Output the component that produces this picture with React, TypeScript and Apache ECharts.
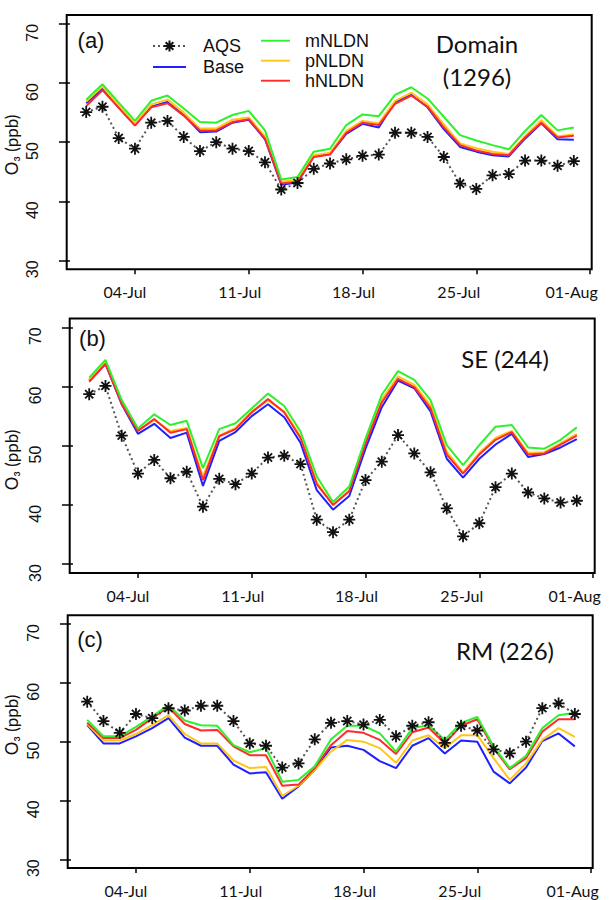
import React, { useEffect, useRef } from "react";
import * as echarts from "echarts";

// Days of July (1..31)
const DAYS = [1, 2, 3, 4, 5, 6, 7, 8, 9, 10, 11, 12, 13, 14, 15, 16, 17, 18, 19, 20, 21, 22, 23, 24, 25, 26, 27, 28, 29, 30, 31];
const TICK_DAYS = [4, 11, 18, 25, 32];
const TICK_LABELS = ["04-Jul", "11-Jul", "18-Jul", "25-Jul", "01-Aug"];
const Y_TICKS = [30, 40, 50, 60, 70];

// (a) Domain (1296)
const A_AQS = [55.1, 56.0, 50.7, 48.9, 53.3, 53.6, 50.9, 48.5, 50.0, 48.9, 48.5, 46.6, 42.0, 43.1, 45.5, 46.4, 47.1, 47.7, 47.9, 51.6, 51.6, 50.9, 47.5, 43.0, 42.1, 44.4, 44.6, 46.9, 46.9, 46.0, 46.8];
const A_BASE = [56.6, 59.1, 55.9, 52.9, 56.0, 56.8, 54.6, 51.7, 51.8, 53.3, 53.8, 50.5, 42.8, 43.2, 47.6, 48.0, 51.4, 53.1, 52.5, 56.8, 58.0, 55.9, 52.2, 49.2, 48.4, 47.8, 47.6, 50.6, 53.2, 50.5, 50.4];
const A_M = [57.2, 59.8, 56.7, 53.6, 57.0, 57.9, 55.7, 53.4, 53.3, 54.6, 55.3, 52.0, 43.7, 44.1, 48.4, 48.9, 52.9, 54.7, 54.4, 58.0, 59.3, 57.4, 54.3, 51.2, 50.3, 49.5, 48.8, 51.9, 54.6, 52.0, 52.5];
const A_P = [56.9, 59.4, 56.2, 53.1, 56.4, 57.2, 55.0, 52.3, 52.3, 53.8, 54.2, 51.0, 43.3, 43.6, 47.8, 48.2, 51.9, 53.6, 53.2, 57.0, 58.4, 56.4, 53.0, 49.8, 49.0, 48.4, 48.0, 51.0, 53.7, 51.0, 51.3];
const A_H = [56.1, 58.8, 55.8, 52.8, 55.9, 56.6, 54.5, 52.0, 52.0, 53.4, 53.9, 50.6, 43.0, 43.3, 47.5, 47.9, 51.6, 53.3, 52.9, 56.5, 57.9, 56.0, 52.5, 49.5, 48.6, 48.0, 47.8, 50.8, 53.3, 50.8, 51.1];

// (b) SE (244)
const B_AQS = [58.7, 60.1, 51.7, 45.3, 47.6, 44.5, 45.6, 39.7, 44.4, 43.5, 45.3, 48.0, 48.3, 46.9, 37.5, 35.4, 37.5, 44.2, 47.3, 51.8, 48.7, 45.5, 39.4, 34.7, 36.9, 43.0, 45.3, 42.1, 41.1, 40.4, 40.7];
const B_BASE = [61.0, 63.8, 57.0, 52.0, 53.7, 51.3, 52.2, 43.2, 50.8, 52.3, 55.0, 57.0, 54.8, 50.5, 42.5, 39.2, 41.5, 49.5, 56.5, 61.0, 59.7, 55.8, 47.8, 44.6, 47.8, 50.2, 52.0, 48.1, 48.6, 49.7, 51.1];
const B_M = [61.5, 64.5, 57.7, 52.9, 55.3, 53.5, 54.2, 46.2, 52.8, 53.8, 56.3, 58.8, 56.7, 52.4, 44.8, 40.5, 43.1, 51.2, 58.6, 62.6, 61.1, 57.7, 50.1, 46.7, 50.1, 53.2, 53.5, 49.7, 49.5, 51.0, 53.1];
const B_P = [61.2, 64.2, 57.3, 52.6, 54.3, 52.5, 53.0, 44.8, 51.7, 53.0, 55.8, 57.6, 55.8, 51.6, 43.8, 40.0, 42.5, 50.5, 57.8, 61.7, 60.3, 56.8, 49.0, 45.5, 48.8, 51.3, 52.5, 48.8, 48.9, 50.4, 52.0];
const B_H = [60.8, 63.8, 57.1, 52.5, 54.5, 52.2, 52.8, 44.2, 51.6, 52.8, 55.6, 57.9, 55.6, 51.3, 43.5, 40.0, 42.3, 50.3, 57.3, 61.3, 59.9, 56.3, 48.5, 45.3, 48.5, 51.0, 52.3, 48.5, 48.7, 50.2, 51.7];

// (c) RM (226)
const C_AQS = [56.8, 53.5, 51.5, 54.7, 54.0, 55.7, 55.3, 56.1, 56.1, 53.5, 49.7, 49.3, 45.6, 46.3, 50.4, 53.2, 53.5, 52.9, 53.7, 50.9, 52.7, 53.3, 49.8, 52.7, 51.9, 48.7, 48.0, 50.0, 55.7, 56.5, 54.7];
const C_BASE = [52.8, 49.7, 49.7, 50.9, 52.3, 54.0, 50.7, 49.3, 49.3, 46.1, 44.6, 44.8, 40.3, 42.4, 45.2, 49.0, 49.3, 48.6, 46.7, 45.5, 49.3, 50.6, 48.0, 50.2, 50.0, 44.9, 42.9, 45.6, 50.1, 51.4, 49.2];
const C_M = [53.7, 50.9, 50.9, 52.5, 54.3, 56.2, 53.6, 52.8, 52.7, 49.4, 48.2, 48.9, 43.2, 43.5, 45.8, 50.4, 52.7, 52.7, 51.4, 48.3, 52.3, 52.8, 50.3, 53.2, 54.2, 49.2, 45.5, 47.6, 52.3, 54.5, 54.9];
const C_P = [53.0, 50.2, 50.2, 51.3, 52.8, 54.5, 51.3, 49.7, 49.7, 46.8, 45.5, 45.7, 40.8, 42.5, 45.2, 48.3, 50.3, 50.0, 48.9, 46.4, 50.2, 51.1, 48.9, 51.1, 51.1, 47.2, 43.5, 46.3, 50.3, 52.3, 50.8];
const C_H = [53.2, 50.6, 50.6, 52.0, 54.0, 55.9, 53.0, 51.9, 52.0, 49.2, 47.7, 47.7, 42.5, 42.7, 45.5, 49.4, 51.8, 51.5, 50.3, 47.9, 51.6, 52.4, 49.7, 52.7, 53.8, 48.9, 45.3, 47.2, 51.7, 53.8, 53.8];

const PANELS = [
  { aqs: A_AQS, base: A_BASE, m: A_M, p: A_P, h: A_H },
  { aqs: B_AQS, base: B_BASE, m: B_M, p: B_P, h: B_H },
  { aqs: C_AQS, base: C_BASE, m: C_M, p: C_P, h: C_H },
];

const GRIDS = [
  { left: 66.7, top: 15.1, width: 525, height: 254.2 },
  { left: 69.7, top: 318.4, width: 525, height: 254.6 },
  { left: 67.7, top: 615.2, width: 525, height: 252.9 },
];

// label text sits a little left of its tick in the original (pixels)
const LABEL_SHIFT_PX = [10, 9, 9, 17.5, 18.5];
const PX_PER_DAY = 525 / 32.3;
const LABEL_POS = TICK_DAYS.map((d, k) => d - LABEL_SHIFT_PX[k] / PX_PER_DAY);

const BLUE = "#1f1fff";
const GREEN = "#2ef02e";
const YELLOW = "#ffc61a";
const RED = "#ff2a2a";
const STAR = "path://M5,0L5,10M0,5L10,5M1.6,1.6L8.4,8.4M1.6,8.4L8.4,1.6";
const LINE_ICON = "path://M0,0L20,0L20,1.3L0,1.3Z";

const pair = (vals: number[]) => DAYS.map((d, i) => [d, vals[i]]);

function buildOption() {
  const series: any[] = [];
  PANELS.forEach((pn, i) => {
    const common = { type: "line", xAxisIndex: i, yAxisIndex: i, symbol: "none", z: 2 };
    series.push({ ...common, name: "Base", data: pair(pn.base), lineStyle: { color: BLUE, width: 2 }, itemStyle: { color: BLUE } });
    series.push({ ...common, name: "pNLDN", data: pair(pn.p), lineStyle: { color: YELLOW, width: 2 }, itemStyle: { color: YELLOW } });
    series.push({ ...common, name: "hNLDN", data: pair(pn.h), lineStyle: { color: RED, width: 2 }, itemStyle: { color: RED } });
    series.push({ ...common, name: "mNLDN", data: pair(pn.m), lineStyle: { color: GREEN, width: 2 }, itemStyle: { color: GREEN } });
    series.push({
      type: "line",
      name: "AQS",
      xAxisIndex: i,
      yAxisIndex: i,
      z: 3,
      data: pair(pn.aqs),
      symbol: STAR,
      symbolSize: 12,
      showSymbol: true,
      lineStyle: { color: "#555", width: 2, type: [2, 3] },
      itemStyle: { color: "#000", borderColor: "#111", borderWidth: 1.8 },
    });
  });

  const tickLabel = (v: number) => {
    const k = LABEL_POS.findIndex((p) => Math.abs(p - v) < 1e-6);
    return k < 0 ? "" : TICK_LABELS[k];
  };

  const xAxis = GRIDS.map((_, i) => ({
    gridIndex: i,
    type: "value",
    min: -0.2,
    max: 32.1,
    axisLine: { show: false },
    splitLine: { show: false },
    axisTick: { show: true, customValues: TICK_DAYS, length: 5, lineStyle: { color: "#000", width: 1.5 } },
    axisLabel: {
      customValues: LABEL_POS,
      formatter: tickLabel,
      margin: 13,
      fontFamily: "Lato",
      fontSize: 16,
      color: "#111",
      lineHeight: 18,
    },
  }));

  const yAxis = GRIDS.map((_, i) => ({
    gridIndex: i,
    type: "value",
    position: "left",
    min: 28.5,
    max: 71.5,
    axisLine: { show: false },
    splitLine: { show: false },
    axisTick: { show: true, customValues: Y_TICKS, length: 11, lineStyle: { color: "#000", width: 1.5 } },
    axisLabel: {
      customValues: Y_TICKS,
      rotate: 89.99,
      margin: 34,
      fontFamily: "Liberation Sans",
      fontSize: 16,
      color: "#111",
    },
  }));

  const txt = (x: number, y: number, text: string, font: string, size: number, rotation = 0) => ({
    type: "text",
    x,
    y,
    rotation,
    style: {
      text,
      fill: "#111",
      fontFamily: font,
      fontSize: size,
      textAlign: "center",
      textVerticalAlign: "middle",
      align: "center",
      verticalAlign: "middle",
    },
  });

  const graphic = [
    txt(91, 40, "(a)", "Liberation Sans", 22),
    txt(92.5, 338, "(b)", "Liberation Sans", 22),
    txt(90, 639, "(c)", "Liberation Sans", 22),
    txt(477, 43, "Domain", "Lato", 24),
    txt(477, 76, "(1296)", "Lato", 24),
    txt(505, 358, "SE (244)", "Lato", 24),
    txt(505, 650, "RM (226)", "Lato", 24),
    txt(11, 145, "O₃ (ppb)", "Lato", 17, Math.PI / 2),
    txt(11, 460, "O₃ (ppb)", "Lato", 17, Math.PI / 2),
    txt(11, 725, "O₃ (ppb)", "Lato", 17, Math.PI / 2),
  ];

  const legendText = { fontFamily: "Liberation Sans", fontSize: 18, color: "#111", lineHeight: 18 };

  return {
    animation: false,
    backgroundColor: "#fff",
    grid: GRIDS.map((g) => ({
      ...g,
      show: true,
      borderColor: "#000",
      borderWidth: 2,
      backgroundColor: "transparent",
      outerBoundsMode: "none",
    })),
    xAxis,
    yAxis,
    legend: [
      {
        left: 152,
        top: 37,
        orient: "vertical",
        padding: 0,
        itemWidth: 33,
        itemHeight: 14,
        itemGap: 3,
        selectedMode: false,
        data: [{ name: "AQS" }, { name: "Base", icon: LINE_ICON }],
        textStyle: { ...legendText, padding: [0, 0, 0, 12] },
      },
      {
        left: 261,
        top: 31.7,
        orient: "vertical",
        padding: 0,
        itemWidth: 29,
        itemHeight: 14,
        itemGap: 2,
        selectedMode: false,
        data: [
          { name: "mNLDN", icon: LINE_ICON },
          { name: "pNLDN", icon: LINE_ICON },
          { name: "hNLDN", icon: LINE_ICON },
        ],
        textStyle: { ...legendText, padding: [0, 0, 0, 10] },
      },
    ],
    graphic,
    series,
  };
}

export default function App() {
  const ref = useRef<HTMLDivElement>(null);
  useEffect(() => {
    if (!ref.current) return;
    const chart = echarts.init(ref.current, null, { renderer: "svg" });
    chart.setOption(buildOption() as any);
    return () => chart.dispose();
  }, []);
  return (
    <div
      ref={ref}
      style={{ position: "absolute", left: 0, top: 0, width: 610, height: 900, background: "#fff" }}
    />
  );
}
